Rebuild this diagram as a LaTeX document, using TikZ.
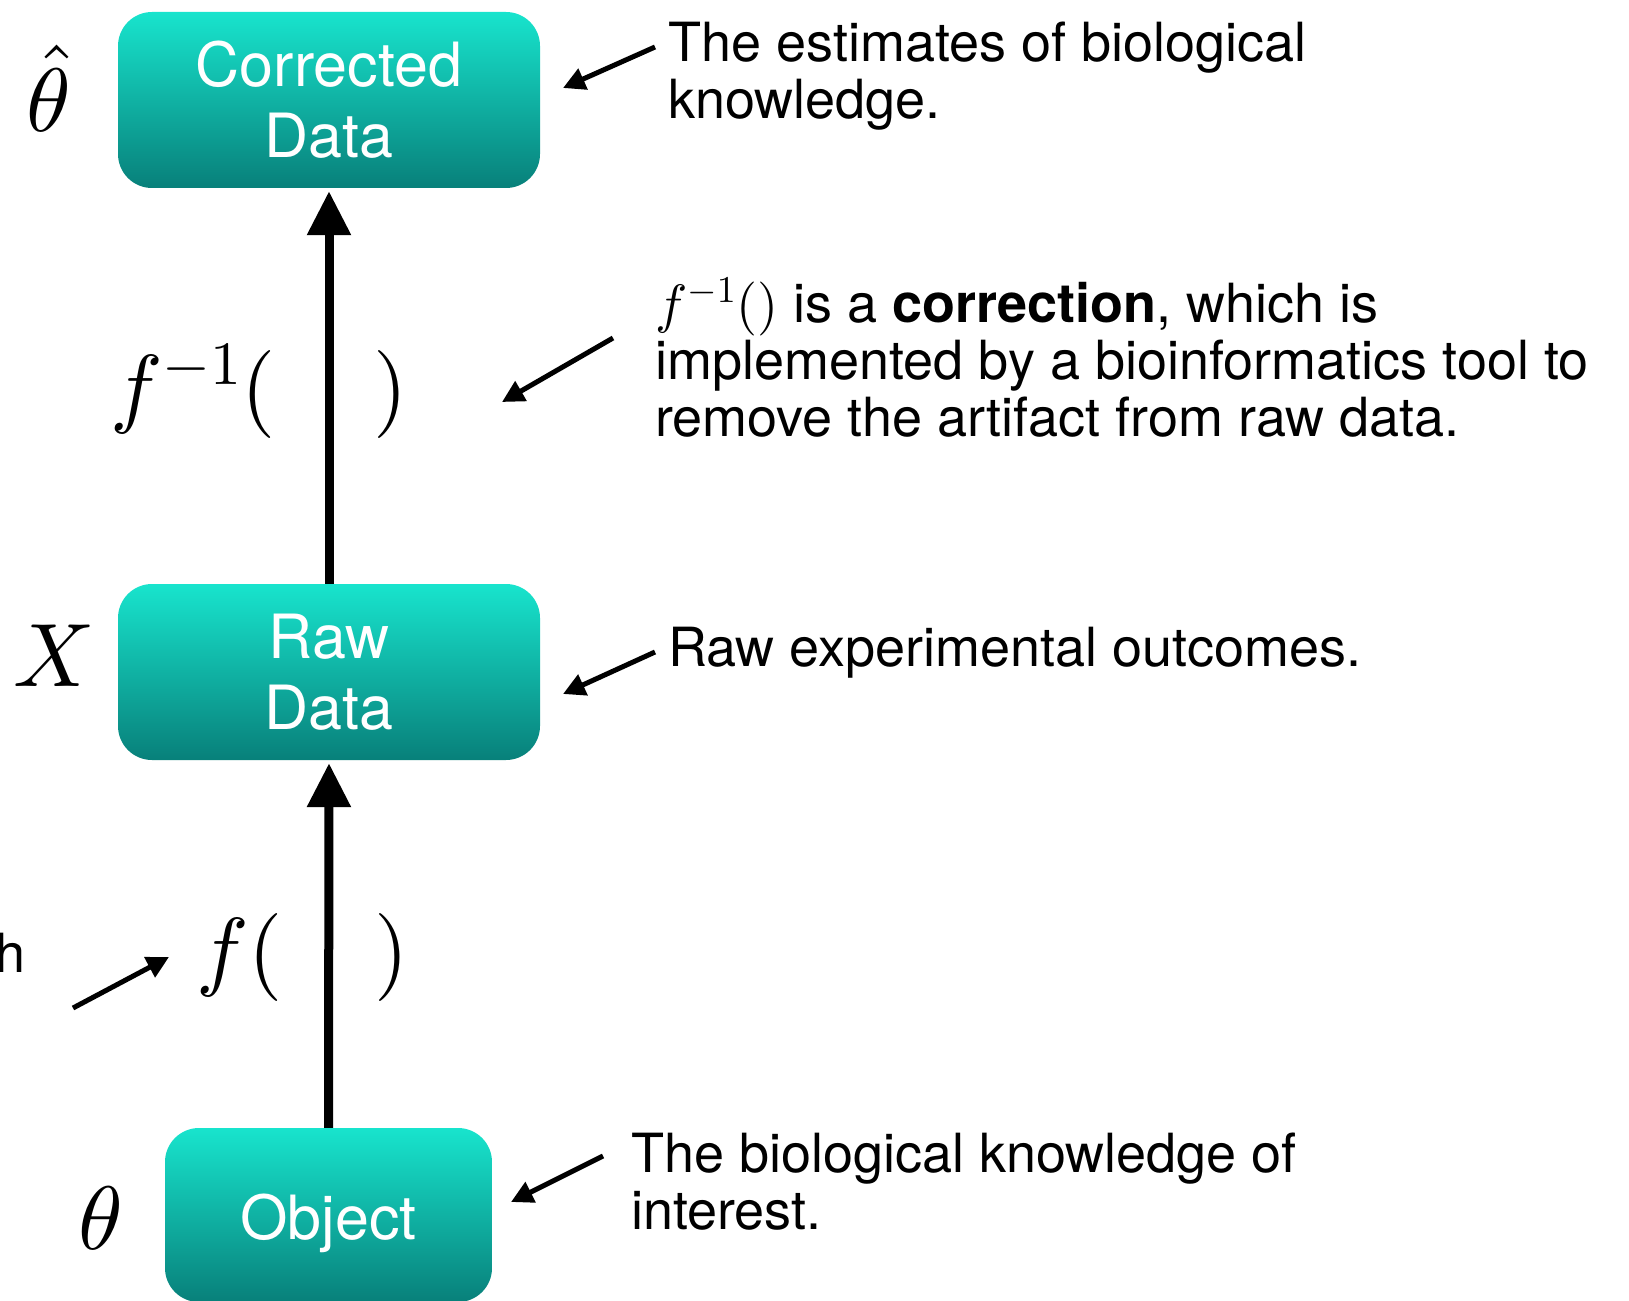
\RequirePackage{fix-cm}
\documentclass[tikz,border=0pt]{standalone}
\usepackage{amsmath}
\usepackage{fontspec}
\setmainfont{TeX Gyre Heros}
\usepackage{tikz}
\usetikzlibrary{positioning,arrows.meta}

% scale the 10pt designs for the big math symbols
\DeclareFontShape{OML}{cmm}{m}{it}{<->cmmi10}{}
\DeclareFontShape{OT1}{cmr}{m}{n}{<->cmr10}{}
\DeclareFontShape{OMS}{cmsy}{m}{n}{<->cmsy10}{}

\definecolor{tealtop}{RGB}{24,228,205}
\definecolor{tealbot}{RGB}{8,128,122}

\begin{document}
\begin{tikzpicture}[x=1pt,y=-1pt,
  databox/.style={rounded corners=34pt,top color=tealtop,bottom color=tealbot,text=white,align=center,inner sep=0pt,font=\fontsize{61}{71}\selectfont},
  flow/.style={line width=9pt,-{Triangle[width=42pt,length=44pt]}},
  pointer/.style={line width=5pt,-{Triangle[width=22pt,length=22pt]}},
  note/.style={align=left,anchor=north west,inner sep=0pt,font=\fontsize{54}{57}\selectfont},
  sym/.style={inner sep=0pt,font=\fontsize{90}{90}\selectfont},
  fn/.style={inner sep=0pt,anchor=west,font=\fontsize{88}{88}\selectfont}]
  \useasboundingbox (0,0) rectangle (1629,1300);

  % the three stages, bottom to top
  \node[databox,minimum width=327pt,minimum height=174pt] (obj) at (328.5,1215) {\raisebox{-8pt}[\height][\depth]{Object}};
  \node[databox,minimum width=422pt,minimum height=176pt] (raw) at (329,672) {Raw\\Data};
  \node[databox,minimum width=422pt,minimum height=176pt] (corr) at (329,100) {Corrected\\Data};
  \draw[flow] (obj.north) -- ([yshift=-3pt]raw.south);
  \draw[flow] (raw.north) -- ([yshift=-3pt]corr.south);

  % symbols on the left
  \node[sym] (thetahat) at (49,88) {$\hat{\theta}$};
  \node[sym] (xvar) at (54,656) {$X$};
  \node[sym] (theta) at (101,1218) {$\theta$};
  \node[fn] (finv) at (110,392) {$f^{-1}(\hspace{97pt})$};
  \node[fn] (fwd) at (196,957) {$f(\hspace{92pt})$};
  \node[inner sep=0pt,anchor=east,font=\fontsize{54}{57}\selectfont] (cut) at (26,953) {h};

  % notes on the right
  \node[note] (ncorr) at (668,22) {The estimates of biological\\knowledge.};
  \node[note] (ninv) at (655,278) {$f^{-1}()$ is a \textbf{correction}, which is\\implemented by a bioinformatics tool to\\remove the artifact from raw data.};
  \node[note] (nraw) at (668,627) {Raw experimental outcomes.};
  \node[note] (nobj) at (631,1133) {The biological knowledge of\\interest.};

  % pointers
  \coordinate (a1) at (655,47);   \coordinate (b1) at (563,88);
  \coordinate (a2) at (613,338);  \coordinate (b2) at (502,402);
  \coordinate (a3) at (655,652);  \coordinate (b3) at (563,694);
  \coordinate (a4) at (603,1156); \coordinate (b4) at (511,1202);
  \coordinate (a5) at (73,1008);  \coordinate (b5) at (169,957);
  \draw[pointer] (a1) -- (b1);
  \draw[pointer] (a2) -- (b2);
  \draw[pointer] (a3) -- (b3);
  \draw[pointer] (a4) -- (b4);
  \draw[pointer] (a5) -- (b5);
\end{tikzpicture}
\end{document}
